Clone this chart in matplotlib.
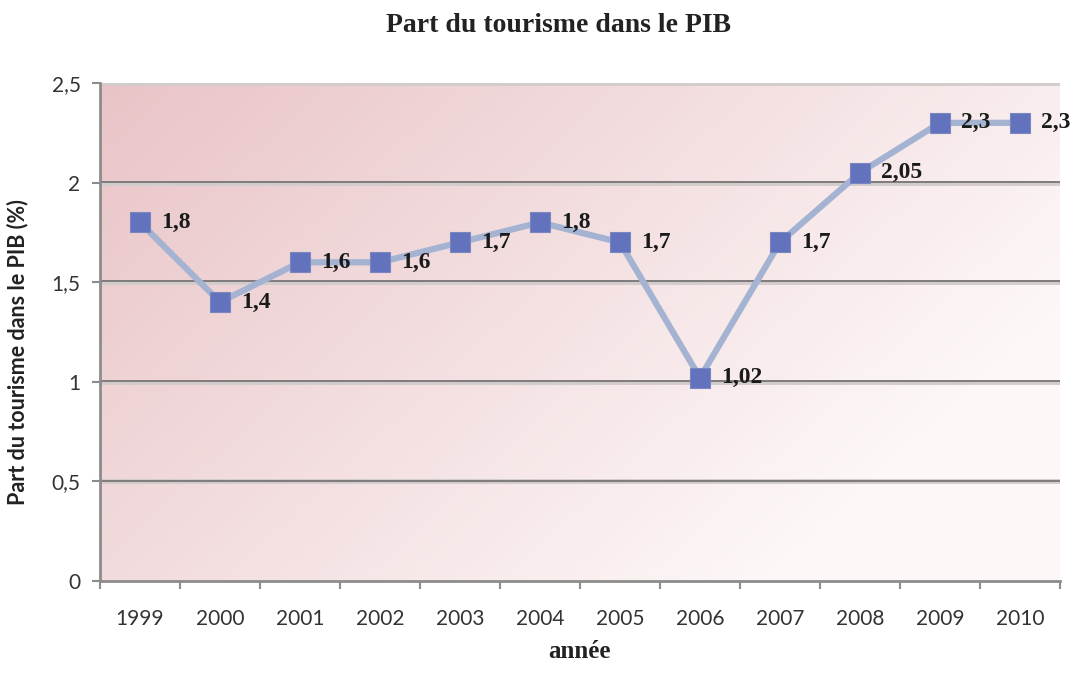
import numpy as np
import matplotlib.pyplot as plt
from matplotlib.colors import LinearSegmentedColormap

years = ['1999', '2000', '2001', '2002', '2003', '2004',
         '2005', '2006', '2007', '2008', '2009', '2010']
share = [1.8, 1.4, 1.6, 1.6, 1.7, 1.8, 1.7, 1.02, 1.7, 2.05, 2.3, 2.3]
labels = ['1,8', '1,4', '1,6', '1,6', '1,7', '1,8', '1,7', '1,02', '1,7', '2,05', '2,3', '2,3']
yticks = [0, 0.5, 1, 1.5, 2, 2.5]
ytick_labels = ['0', '0,5', '1', '1,5', '2', '2,5']

fig = plt.figure(figsize=(10.81, 6.77), dpi=100)
ax = fig.add_axes([0.0925, 0.1418, 0.888, 0.7356])

x = np.arange(len(years))
ax.set_xlim(-0.5, len(years) - 0.5)
ax.set_ylim(0, 2.5)

# pink gradient background, darker at top left
gx, gy = np.meshgrid(np.linspace(0, 1, 200), np.linspace(0, 1, 200))
g = np.clip(1 - (0.8 * gx + 0.45 * gy), 0, 1)
cmap = LinearSegmentedColormap.from_list('bg', ['#fdf7f7', '#e9c4c7'])
ax.imshow(g, cmap=cmap, extent=(-0.5, len(years) - 0.5, 0, 2.5),
          aspect='auto', origin='upper', zorder=0)

for yv in yticks[1:]:
    ax.axhline(yv, color='#d2cccc', lw=3.5, zorder=1)
    ax.axhline(yv + 0.004, color='#7f7b7b', lw=1.4, zorder=1.1)

ax.plot(x, share, color='#a4b3d2', lw=4.5, zorder=2)
ax.plot(x, share, 's', ms=14, color='#6272bd', mec='#7a86c0', mew=0.8, zorder=3)

for xi, yi, lab in zip(x, share, labels):
    ax.annotate(lab, (xi, yi), xytext=(15, 0), textcoords='offset points',
                va='center', ha='left', fontsize=17, fontweight='bold',
                family='Liberation Serif', color='#1a1a1a', zorder=4)

ax.set_yticks(yticks)
ax.set_yticklabels(ytick_labels, family='Lato', fontsize=15, color='#333333')
ax.set_xticks(x)
ax.set_xticklabels(years, family='Lato', fontsize=15, color='#333333')
ax.set_xticks(np.arange(-0.5, len(years), 1), minor=True)
ax.tick_params(axis='x', which='major', length=0, pad=20)
ax.tick_params(axis='x', which='minor', length=6, color='#8c8c8c', width=1.5, direction='out')
ax.tick_params(axis='y', length=6, color='#8c8c8c', width=1.5, pad=8)

for side in ['top', 'right']:
    ax.spines[side].set_visible(False)
for side in ['left', 'bottom']:
    ax.spines[side].set_color('#8c8c8c')
    ax.spines[side].set_linewidth(2)

ax.set_ylabel('Part du tourisme dans le PIB (%)', family='Lato', fontweight='bold',
              fontsize=15.5, color='#222222')
ax.yaxis.set_label_coords(-0.075, 0.46)
ax.set_xlabel('année', family='Liberation Serif', fontweight='bold', fontsize=18,
              color='#222222', labelpad=8)
fig.text(0.517, 0.962, 'Part du tourisme dans le PIB', ha='center', va='center',
         family='Liberation Serif', fontweight='bold', fontsize=20, color='#222222')

fig.savefig('out.png', dpi=100)
